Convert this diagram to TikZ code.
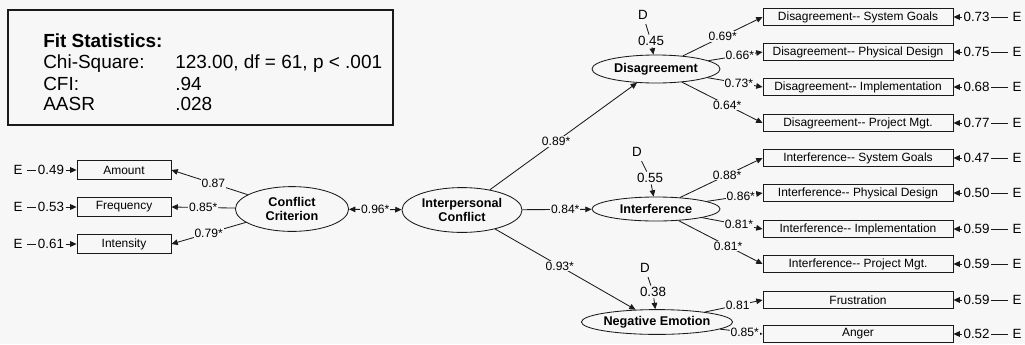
\documentclass[tikz,border=0pt]{standalone}
\usepackage{fontspec}
\setmainfont{Liberation Sans}
\usepackage{tikz}
\usetikzlibrary{arrows.meta, shapes.geometric}
\definecolor{Ink}{HTML}{1A1A1A}
\definecolor{Paper}{HTML}{F7F7F7}

\begin{document}
\begin{tikzpicture}[
  x=0.025cm, y=-0.025cm,
  font=\fontsize{8.5}{10}\selectfont,
  measure/.style={draw=Ink, line width=0.6pt, minimum height=0.47cm, minimum width=2.35cm, inner sep=0pt},
  item/.style={measure, minimum width=4.75cm, minimum height=0.43cm},
  factor/.style={ellipse, draw=Ink, line width=0.6pt, inner sep=0pt, align=center, font=\fontsize{9}{10}\selectfont\bfseries},
  coef/.style={fill=Paper, inner sep=0.6pt, font=\fontsize{8.6}{10}\selectfont},
  resid/.style={inner sep=1pt, font=\fontsize{9.5}{10}\selectfont},
  src/.style={resid, inner sep=3pt},
  link/.style={line width=0.6pt, draw=Ink},
  arrow/.style={link, -{Triangle[length=4.5pt, width=4pt]}},
  both/.style={link, {Triangle[length=4.5pt, width=4pt]}-{Triangle[length=4.5pt, width=4pt]}}
]
\fill[Paper] (0,0) rectangle (1025,344);
\useasboundingbox (0,0) rectangle (1025,344);

% fit statistics
\draw[Ink, line width=1pt] (8,10) rectangle (393,125);
\node[anchor=base west, inner sep=0pt, font=\fontsize{13.5}{16}\selectfont\bfseries] (fitTitle) at (43,47) {Fit Statistics:};
\node[anchor=base west, inner sep=0pt, font=\fontsize{13.5}{16}\selectfont] (chiName) at (43,68) {Chi-Square:};
\node[anchor=base west, inner sep=0pt, font=\fontsize{13.5}{16}\selectfont] (chiValue) at (175,68) {123.00, df = 61, p < .001};
\node[anchor=base west, inner sep=0pt, font=\fontsize{13.5}{16}\selectfont] (cfiName) at (43,90) {CFI:};
\node[anchor=base west, inner sep=0pt, font=\fontsize{13.5}{16}\selectfont] (cfiValue) at (175,90) {.94};
\node[anchor=base west, inner sep=0pt, font=\fontsize{13.5}{16}\selectfont] (aasrName) at (43,110) {AASR};
\node[anchor=base west, inner sep=0pt, font=\fontsize{13.5}{16}\selectfont] (aasrValue) at (175,110) {.028};

% latent factors
\node[factor, minimum width=2.83cm, minimum height=1.12cm] (crit) at (292,209) {Conflict\\Criterion};
\node[factor, minimum width=3.0cm, minimum height=1.12cm] (inter) at (462,210) {Interpersonal\\Conflict};
\node[factor, minimum width=3.2cm, minimum height=0.7cm] (dis) at (656,69) {Disagreement};
\node[factor, minimum width=3.2cm, minimum height=0.6cm] (intf) at (656,209) {Interference};
\node[factor, minimum width=3.1cm, minimum height=0.62cm] (neg) at (657,322) {Negative Emotion};

% criterion indicators
\node[measure] (amount) at (124,170) {Amount};
\node[measure] (freq) at (124,207) {Frequency};
\node[measure] (intens) at (124,244) {Intensity};

% facet indicators
\node[item] (dsg) at (858,17) {Disagreement-{}- System Goals};
\node[item] (dpd) at (858,52) {Disagreement-{}- Physical Design};
\node[item] (dim) at (858,87) {Disagreement-{}- Implementation};
\node[item] (dpm) at (858,123) {Disagreement-{}- Project Mgt.};
\node[item] (isg) at (858,158) {Interference-{}- System Goals};
\node[item] (ipd) at (858,193) {Interference-{}- Physical Design};
\node[item] (iim) at (858,229) {Interference-{}- Implementation};
\node[item] (ipm) at (858,264) {Interference-{}- Project Mgt.};
\node[item] (fru) at (858,300) {Frustration};
\node[item] (ang) at (858,334) {Anger};

% structural paths
\draw[both] (crit) -- node[coef] {0.96*} (inter);
\draw[arrow] (inter) -- node[coef, pos=0.45] {0.89*} (dis);
\draw[arrow] (inter) -- node[coef, pos=0.62] {0.84*} (intf);
\draw[arrow] (inter) -- node[coef, pos=0.46] {0.93*} (neg);

% loadings
\draw[arrow] (crit) -- node[coef, pos=0.45] {0.87} (amount.east);
\draw[arrow] (crit) -- node[coef, pos=0.5] {0.85*} (freq.east);
\draw[arrow] (crit) -- node[coef, pos=0.5] {0.79*} (intens.east);

\draw[arrow] (dis) -- node[coef, pos=0.5] {0.69*} (dsg.west);
\draw[arrow] (dis) -- node[coef, pos=0.58] {0.66*} (dpd.west);
\draw[arrow] (dis) -- node[coef, pos=0.57] {0.73*} (dim.west);
\draw[arrow] (dis) -- node[coef, pos=0.56] {0.64*} (dpm.west);
\draw[arrow] (intf) -- node[coef, pos=0.57] {0.88*} (isg.west);
\draw[arrow] (intf) -- node[coef, pos=0.61] {0.86*} (ipd.west);
\draw[arrow] (intf) -- node[coef, pos=0.61] {0.81*} (iim.west);
\draw[arrow] (intf) -- node[coef, pos=0.59] {0.81*} (ipm.west);
\draw[arrow] (neg) -- node[coef, pos=0.57] {0.81} (fru.west);
\draw[arrow] (neg) -- node[coef, pos=0.58] {0.85*} (ang.west);

% disturbances
\node[src] (dDis) at (643,15) {D};
\node[resid] (zDis) at (651,41) {0.45};
\node[src] (dIntf) at (637,152) {D};
\node[resid] (zIntf) at (650,178) {0.55};
\node[src] (dNeg) at (645,268) {D};
\node[resid] (zNeg) at (653,292) {0.38};
\draw[link] (dDis) -- (zDis);
\draw[arrow] (zDis) -- (dis);
\draw[link] (dIntf) -- (zIntf);
\draw[arrow] (zIntf) -- (intf);
\draw[link] (dNeg) -- (zNeg);
\draw[arrow] (zNeg) -- (neg);

% errors, left
\node[src] (eAmount) at (18,170) {E};
\node[resid] (rAmount) at (51,170) {0.49};
\node[src] (eFreq) at (18,207) {E};
\node[resid] (rFreq) at (51,207) {0.53};
\node[src] (eIntens) at (18,244) {E};
\node[resid] (rIntens) at (51,244) {0.61};
\draw[link] (eAmount) -- (rAmount);
\draw[arrow] (rAmount) -- (amount);
\draw[link] (eFreq) -- (rFreq);
\draw[arrow] (rFreq) -- (freq);
\draw[link] (eIntens) -- (rIntens);
\draw[arrow] (rIntens) -- (intens);

% errors, right
\foreach \itm/\val in {dsg/0.73, dpd/0.75, dim/0.68, dpm/0.77, isg/0.47, ipd/0.50, iim/0.59, ipm/0.59, fru/0.59, ang/0.52} {
  \node[resid, anchor=west] (r\itm) at ([xshift=6pt]\itm.east) {\val};
  \node[src] (e\itm) at (1017,0 |- \itm) {E};
  \draw[link] (e\itm) -- (r\itm);
  \draw[arrow] (r\itm) -- (\itm);
}
\end{tikzpicture}
\end{document}
